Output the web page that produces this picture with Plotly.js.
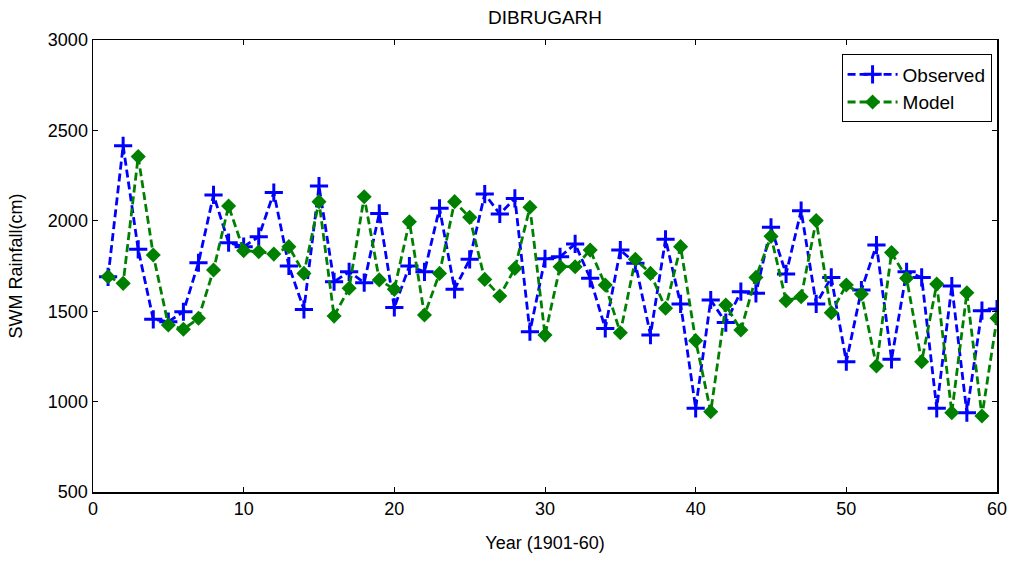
<!DOCTYPE html>
<html>
<head>
<meta charset="utf-8">
<script src="https://cdn.plot.ly/plotly-3.0.1.min.js"></script>
<style>html,body{margin:0;padding:0;background:#fff;}#chart{width:1015px;height:562px;}</style>
</head>
<body>
<div id="chart"></div>
<script>
const years = [];
for (let i = 1; i <= 60; i++) years.push(i);

const observed = [1690, 2415, 1842, 1455, 1442, 1497, 1768, 2143, 1879, 1857,
  1912, 2156, 1750, 1510, 2192, 1663, 1718, 1658, 2041, 1521,
  1750, 1718, 2069, 1621, 1787, 2148, 2038, 2124, 1387, 1790,
  1801, 1872, 1682, 1405, 1838, 1765, 1368, 1898, 1540, 963,
  1562, 1437, 1608, 1599, 1964, 1706, 2056, 1540, 1687, 1221,
  1617, 1866, 1234, 1718, 1687, 963, 1639, 939, 1503, 1512];

const model = [1691, 1654, 2355, 1811, 1424, 1400, 1461, 1728, 2082, 1835,
  1829, 1816, 1857, 1709, 2106, 1473, 1627, 2133, 1673, 1621,
  1995, 1479, 1709, 2106, 2019, 1676, 1584, 1737, 2075, 1368,
  1746, 1746, 1838, 1645, 1381, 1787, 1709, 1516, 1857, 1337,
  944, 1534, 1396, 1687, 1914, 1558, 1580, 2001, 1492, 1645,
  1595, 1197, 1824, 1682, 1221, 1650, 939, 1602, 920, 1461];

const seriesNames = ['Observed', 'Model'];
const xTicks = [0, 10, 20, 30, 40, 50, 60];
const yTicks = [500, 1000, 1500, 2000, 2500, 3000];

const font = 'Liberation Sans, Arial, sans-serif';

const traces = [
  {
    x: years, y: observed, name: seriesNames[0], type: 'scatter', mode: 'lines+markers',
    line: {color: '#0000ff', width: 2.8, dash: '8px,4px'},
    marker: {symbol: 'cross-thin-open', size: 13, color: '#0000ff', line: {color: '#0000ff', width: 3}}
  },
  {
    x: years, y: model, name: seriesNames[1], type: 'scatter', mode: 'lines+markers',
    line: {color: '#008000', width: 2.8, dash: '8px,4px'},
    marker: {symbol: 'diamond', size: 10, color: '#008000', line: {color: '#008000', width: 1.5}}
  }
];

const axisCommon = {
  showline: true, linecolor: '#000', linewidth: 1.5, mirror: 'ticks',
  ticks: 'inside', ticklen: 5, tickwidth: 1, tickcolor: '#000',
  showgrid: false, zeroline: false,
  tickfont: {family: font, size: 18, color: '#000'}
};

const layout = {
  width: 1015, height: 562,
  margin: {l: 93, r: 18, t: 40, b: 70},
  paper_bgcolor: '#fff', plot_bgcolor: '#fff',
  title: {text: 'DIBRUGARH', font: {family: font, size: 19, color: '#000'}, x: 0.537, xanchor: 'center', y: 0.97, yanchor: 'middle'},
  xaxis: Object.assign({}, axisCommon, {
    range: [0, 60], tickvals: xTicks, ticktext: xTicks.map(String),
    title: {text: 'Year (1901-60)', font: {family: font, size: 18, color: '#000'}, standoff: 18}
  }),
  yaxis: Object.assign({}, axisCommon, {
    range: [500, 3000], tickvals: yTicks, ticktext: yTicks.map(String),
    title: {text: 'SWM Rainfall(cm)', font: {family: font, size: 18, color: '#000'}, standoff: 20}
  }),
  legend: {
    x: 0.994, xanchor: 'right', y: 0.968, yanchor: 'top',
    bordercolor: '#000', borderwidth: 1, bgcolor: '#fff',
    font: {family: font, size: 19, color: '#000'},
    itemwidth: 50, tracegroupgap: 0, entrywidth: 140
  },
  showlegend: true
};

Plotly.newPlot('chart', traces, layout, {displayModeBar: false, staticPlot: true});
</script>
</body>
</html>
